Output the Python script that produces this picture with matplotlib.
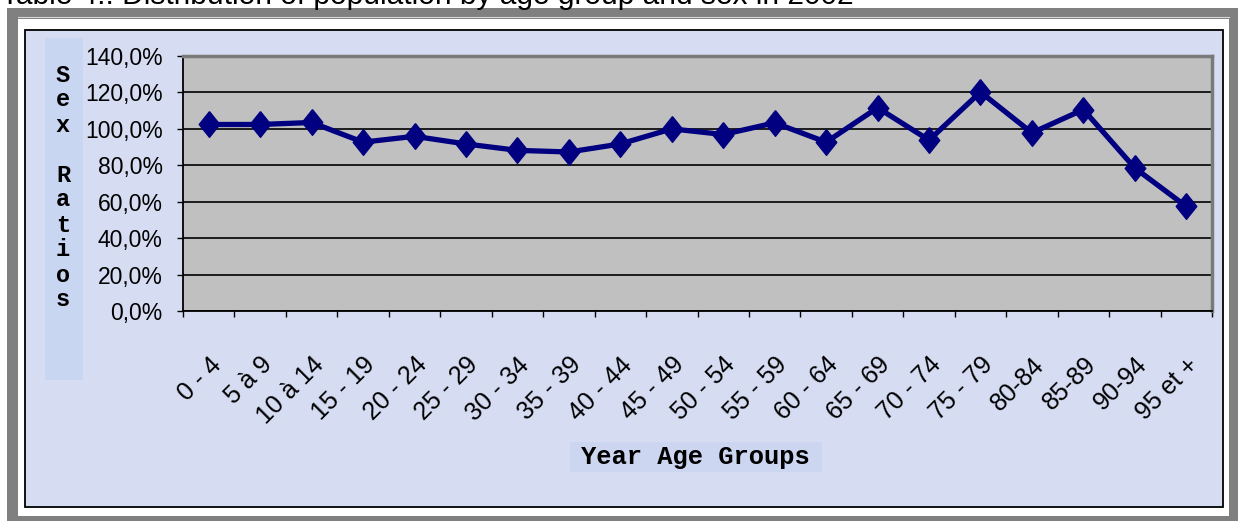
import numpy as np
import matplotlib
matplotlib.use("Agg")
import matplotlib.pyplot as plt
from matplotlib.patches import Rectangle

# data
age_groups = ["0 - 4", "5 à 9", "10 à 14", "15 - 19", "20 - 24", "25 - 29",
              "30 - 34", "35 - 39", "40 - 44", "45 - 49", "50 - 54", "55 - 59",
              "60 - 64", "65 - 69", "70 - 74", "75 - 79", "80-84", "85-89",
              "90-94", "95 et +"]
sex_ratio = [102.4, 102.4, 103.5, 92.7, 95.9, 91.7, 88.2, 87.3, 91.7, 100.0,
             96.9, 103.3, 92.7, 111.6, 93.8, 120.2, 97.8, 110.6, 78.5, 57.4]
y_ticks = [0, 20, 40, 60, 80, 100, 120, 140]

title = "Table 4.: Distribution of population by age group and sex in 2002"
y_label = "Sex Ratios"
x_label = "Year Age Groups"

W, H = 1238, 521
sans = "Liberation Sans"
mono = "Liberation Mono"

fig = plt.figure(figsize=(W / 100, H / 100), dpi=100, facecolor="white")

# background / frames in pixel coordinates
bg = fig.add_axes([0, 0, 1, 1], zorder=0)
bg.set_xlim(0, W)
bg.set_ylim(H, 0)
bg.axis("off")
bg.add_patch(Rectangle((7, 8), W - 7, H - 8, facecolor="#808080", edgecolor="none"))
bg.add_patch(Rectangle((18, 19), 1211, 497, facecolor="white", edgecolor="none"))
bg.plot([18, 1229], [16.5, 16.5], color="#d8d8d8", lw=0.8)
bg.add_patch(Rectangle((25, 30), 1198, 477, facecolor="#d6ddf3", edgecolor="black", lw=1.3))
bg.add_patch(Rectangle((45, 38), 38, 342, facecolor="#c8d6f2", edgecolor="none"))
bg.add_patch(Rectangle((570, 442), 252, 30, facecolor="#cdd6f0", edgecolor="none"))

# title, cut off at the top like the screenshot
fig.text(1 / W, 1 - 4 / H, title, fontsize=21.5, family=sans,
         ha="left", va="baseline", color="black")

# plot area
left, right, top, bottom = 183, 1212, 56, 311
ax = fig.add_axes([left / W, 1 - bottom / H, (right - left) / W, (bottom - top) / H], zorder=1)
ax.set_facecolor("#c0c0c0")

x = np.arange(len(age_groups))
diamond = [(0, 1), (0.8, 0), (0, -1), (-0.8, 0), (0, 1)]
ax.plot(x, sex_ratio, color="#000080", lw=3.8, marker=diamond, ms=18.5,
        mfc="#000080", mec="#000080", clip_on=False, zorder=3)

ax.set_xlim(-0.5, len(age_groups) - 0.5)
ax.set_ylim(0, 140)
ax.set_yticks(y_ticks)
ax.set_yticklabels([f"{v:.1f}%".replace(".", ",") for v in y_ticks])
ax.yaxis.grid(True, color="black", lw=1.2)
ax.set_axisbelow(True)

ax.set_xticks(np.arange(-0.5, len(age_groups), 1))
ax.set_xticklabels([])
ax.set_xticks(x, minor=True)
ax.set_xticklabels(age_groups, minor=True, rotation=45, ha="right", va="top",
                   rotation_mode="anchor", fontsize=18, family=sans)
ax.tick_params(axis="x", which="major", direction="out", length=4.5, width=1, color="black")
ax.tick_params(axis="x", which="minor", length=0, pad=30)
ax.tick_params(axis="y", direction="out", length=4.5, width=1, color="black", pad=10,
               labelsize=16.5)
for lab in ax.get_yticklabels():
    lab.set_family(sans)

for s in ["left", "bottom"]:
    ax.spines[s].set_color("black")
    ax.spines[s].set_linewidth(1.3)
for s in ["top", "right"]:
    ax.spines[s].set_color("#7a7a7a")
    ax.spines[s].set_linewidth(2.5)

# stacked y label
for i, ch in enumerate(y_label):
    fig.text(63 / W, 1 - (75 + 25 * i) / H, ch, fontsize=17, family=mono,
             fontweight="bold", ha="center", va="center")

fig.text(695 / W, 1 - 457 / H, x_label, fontsize=18.4, family=mono,
         fontweight="bold", ha="center", va="center")

fig.savefig("out.png", dpi=100, facecolor="white")
